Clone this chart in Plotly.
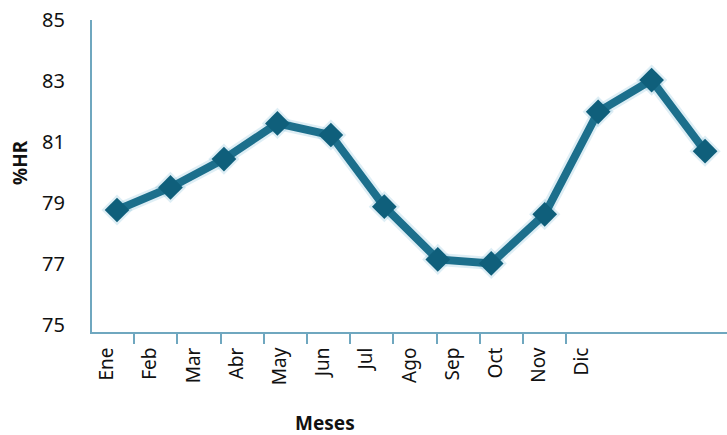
import plotly.graph_objects as go

meses = ["Ene", "Feb", "Mar", "Abr", "May", "Jun", "Jul", "Ago", "Sep", "Oct", "Nov", "Dic"]
hr = [78.77, 79.51, 80.44, 81.61, 81.23, 78.88, 77.15, 77.02, 78.63, 81.99, 83.03, 80.70]
y_ticks = [75, 77, 79, 81, 83, 85]

FONT = "Noto Sans"
LINE_C = "#1c6f8c"
MARK_C = "#0f5f7b"
AXIS_C = "#6fa7bf"

fig = go.Figure()

# soft glow under the line
fig.add_trace(go.Scatter(
    x=meses, y=hr, mode="lines+markers",
    line=dict(color="rgba(70,160,200,0.18)", width=13),
    marker=dict(symbol="diamond", size=24, color="rgba(70,160,200,0.18)"),
    hoverinfo="skip", showlegend=False, xaxis="x", yaxis="y"))

fig.add_trace(go.Scatter(
    x=meses, y=hr, mode="lines+markers",
    line=dict(color=LINE_C, width=8),
    marker=dict(symbol="diamond", size=19, color=MARK_C),
    showlegend=False, xaxis="x", yaxis="y"))

# invisible trace to anchor the label axis
fig.add_trace(go.Scatter(x=[0.5], y=[80], mode="markers", marker=dict(opacity=0),
                         hoverinfo="skip", showlegend=False, xaxis="x2", yaxis="y"))

fig.update_layout(
    width=727, height=435,
    margin=dict(l=92, r=0, t=20, b=103, autoexpand=False),
    paper_bgcolor="white", plot_bgcolor="white",
    font=dict(family=FONT, color="#111111"),
    xaxis=dict(type="category", range=[-0.468, 11.41], visible=False),
    xaxis2=dict(
        overlaying="x", side="bottom", anchor="y",
        range=[0.023, 14.72],
        showgrid=False, zeroline=False,
        showline=True, linecolor=AXIS_C, linewidth=2,
        tickmode="array", tickvals=[i + 0.37 for i in range(len(meses))], ticktext=meses,
        ticks="", tickangle=-90,
        tickfont=dict(size=19, family=FONT, color="#111111"),
        ticklabelstandoff=6,
        minor=dict(tickmode="array", tickvals=list(range(len(meses))),
                   ticks="outside", ticklen=10, tickwidth=2, tickcolor=AXIS_C, showgrid=False),
    ),
    yaxis=dict(
        range=[74.77, 85], showgrid=False, zeroline=False,
        showline=True, linecolor=AXIS_C, linewidth=2,
        tickmode="array", tickvals=y_ticks, ticks="",
        tickfont=dict(size=20, family=FONT, color="#111111"),
        ticklabelstandoff=21,
    ),
    annotations=[
        dict(text="<b>Meses</b>", xref="paper", yref="paper", x=(325 - 92) / 635, y=-(423 - 332) / 312,
             xanchor="center", yanchor="middle", showarrow=False, font=dict(size=19, family=FONT, color="#111111")),
        dict(text="<b>%HR</b>", xref="paper", yref="paper", x=-(92 - 20) / 635, y=(332 - 163) / 312,
             xanchor="center", yanchor="middle", textangle=-90, showarrow=False,
             font=dict(size=19, family=FONT, color="#111111")),
    ],
)

fig.write_html("out.html", config={"displayModeBar": False},
               post_script="document.body.style.margin='0';document.body.style.overflow='hidden';")
